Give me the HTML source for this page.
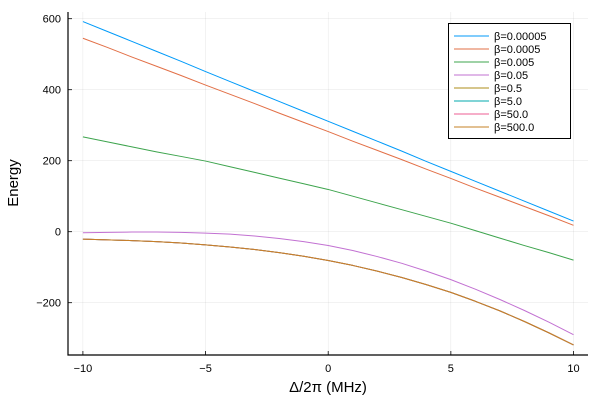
<!DOCTYPE html>
<html><head><meta charset="utf-8"><style>body{margin:0;background:#fff}svg{display:block;font-family:"Liberation Sans","DejaVu Sans",sans-serif}</style></head>
<body>
<svg id="chart" width="600" height="400" viewBox="0 0 600 400"></svg>
<script>
const xValues=[-10,-9,-8,-7,-6,-5,-4,-3,-2,-1,0,1,2,3,4,5,6,7,8,9,10];
const s1=[592,564,536,508,480,451,423,395,367,339,311,283,255,227,198,170,142,114,86,58,30];
const s2=[545,519,492,466,440,413,387,361,334,308,282,255,229,203,176,150,123,97,71,45,18];
const s3=[267,253,239,225,212,199,183,167,151,135,119,100,81,62,43,24,3,-18,-39,-59,-80];
const s4=[-3,-2,-1,-1,-2,-4,-7,-12,-19,-28,-39,-53,-70,-89,-111,-135,-162,-191,-222,-255,-290];
const s5=[-21,-23,-25,-28,-32,-37,-43,-50,-59,-69,-81,-95,-111,-129,-149,-171,-196,-223,-253,-285,-319];
const seriesLabels=["β=0.00005","β=0.0005","β=0.005","β=0.05","β=0.5","β=5.0","β=50.0","β=500.0"];
const seriesData=[s1,s2,s3,s4,s5,s5,s5,s5];
const colors=["#009af9","#e26f46","#3da44d","#c271d2","#ac8d18","#00a9ad","#ed5e93","#c68125"];
const xTicks=[-10,-5,0,5,10];
const yTicks=[-200,0,200,400,600];
const NS="http://www.w3.org/2000/svg";
const svg=document.getElementById('chart');
const L=68,R=588,T=12,B=355;
const xs=v=>82.9+(v+10)*24.53;
const ys=v=>231.7-v*0.355;
function mk(t,a,p){const e=document.createElementNS(NS,t);for(const k in a)e.setAttribute(k,a[k]);(p||svg).appendChild(e);return e;}
for(const t of xTicks){const g=mk('line',{x1:xs(t),x2:xs(t),y1:T,y2:B,stroke:'#000','stroke-opacity':0.1,'stroke-width':0.5});

const tx=mk('text',{x:xs(t),y:372,'text-anchor':'middle','font-size':11});tx.textContent=t<0?'−'+(-t):t;

mk('line',{x1:xs(t),x2:xs(t),y1:B,y2:B-4,stroke:'#000','stroke-width':0.8});}
for(const t of yTicks){const g=mk('line',{x1:L,x2:R,y1:ys(t),y2:ys(t),stroke:'#000','stroke-opacity':0.1,'stroke-width':0.5});

const tx=mk('text',{x:61,y:ys(t)+4,'text-anchor':'end','font-size':11});tx.textContent=t<0?'−'+(-t):t;

mk('line',{x1:L,x2:L+4,y1:ys(t),y2:ys(t),stroke:'#000','stroke-width':0.8});}
const ax=mk('path',{d:`M${L},${T}V${B}H${R}`,fill:'none',stroke:'#000','stroke-width':1.2});

seriesData.forEach((d,i)=>{const p=mk('polyline',{points:d.map((v,j)=>xs(xValues[j])+','+ys(v)).join(' '),fill:'none',stroke:colors[i],'stroke-width':1,'stroke-linejoin':'round'});
});
const xl=mk('text',{x:328,y:392,'text-anchor':'middle','font-size':15});xl.textContent='Δ/2π (MHz)';

const yl=mk('text',{x:18,y:183,'text-anchor':'middle','font-size':15,transform:'rotate(-90 18 183)'});yl.textContent='Energy';

const lg=mk('g',{});
mk('rect',{x:448.5,y:23.5,width:122,height:115,fill:'#fff',stroke:'#000','stroke-width':1},lg);
seriesLabels.forEach((s,i)=>{const y=36+i*13;const e=mk('g',{},lg);

mk('line',{x1:454,x2:489,y1:y,y2:y,stroke:colors[i],'stroke-width':1},e);
const t=mk('text',{x:494,y:y+4,'font-size':11},e);t.textContent=s;});
</script>
</body></html>
